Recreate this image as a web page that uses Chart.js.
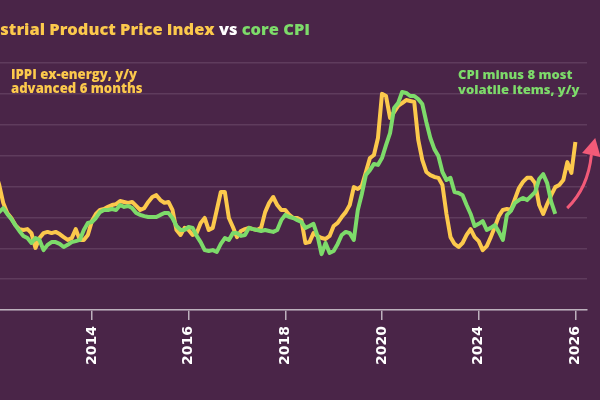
<!DOCTYPE html>
<html>
<head>
<meta charset="utf-8">
<script src="https://cdn.jsdelivr.net/npm/chart.js@4.4.1/dist/chart.umd.min.js"></script>
<style>
  html, body { margin: 0; padding: 0; width: 600px; height: 400px; overflow: hidden; background: #4a2548; }
  #wrap { position: absolute; left: -100px; top: 0; width: 700px; height: 400px; }
</style>
</head>
<body>
<div id="wrap"><canvas id="c"></canvas></div>
<script>
// Axis time (decimal year) of the first monthly observation
const startYear = 2012;

// IPPI ex-energy, y/y, advanced 6 months (monthly, grid units)
const ippi = [
  4.47, 4.05, 3.47, 3.14, 2.98, 2.75, 2.62, 2.59, 2.62, 2.49, 2.01, 2.33,
  2.49, 2.53, 2.49, 2.53, 2.46, 2.36, 2.27, 2.33, 2.62, 2.27, 2.27, 2.43,
  2.88, 3.11, 3.24, 3.27, 3.34, 3.40, 3.43, 3.53, 3.50, 3.47, 3.50, 3.37,
  3.24, 3.30, 3.50, 3.66, 3.72, 3.56, 3.47, 3.50, 3.24, 2.59, 2.43, 2.66,
  2.59, 2.43, 2.49, 2.82, 2.98, 2.59, 2.66, 3.24, 3.82, 3.82, 2.98, 2.69,
  2.36, 2.56, 2.62, 2.66, 2.62, 2.59, 2.66, 3.17, 3.47, 3.66, 3.40, 3.24,
  3.24, 3.08, 2.98, 2.98, 2.91, 2.17, 2.20, 2.49, 2.40, 2.33, 2.30, 2.40,
  2.72, 2.82, 3.01, 3.17, 3.40, 3.98, 3.92, 4.02, 4.47, 4.92, 5.02, 5.57,
  7.00, 6.93, 6.22, 6.41, 6.61, 6.70, 6.80, 6.77, 6.74, 5.51, 4.86, 4.47,
  4.37, 4.31, 4.28, 4.05, 3.11, 2.36, 2.14, 2.04, 2.17, 2.43, 2.62, 2.36,
  2.23, 1.94, 2.07, 2.36, 2.69, 3.04, 3.24, 3.27, 3.24, 3.60, 3.95, 4.15,
  4.28, 4.28, 4.11, 3.40, 3.11, 3.43, 3.72, 3.98, 4.05, 4.21, 4.79, 4.44,
  5.44
];

// CPI minus 8 most volatile items, y/y (monthly, grid units)
const cpix = [
  3.08, 3.17, 3.30, 3.11, 2.95, 2.75, 2.56, 2.40, 2.33, 2.17, 2.33, 2.27,
  1.94, 2.11, 2.20, 2.20, 2.14, 2.04, 2.11, 2.20, 2.23, 2.27, 2.59, 2.82,
  2.85, 2.98, 3.17, 3.24, 3.24, 3.27, 3.24, 3.40, 3.34, 3.37, 3.30, 3.14,
  3.08, 3.04, 3.01, 3.01, 3.01, 3.08, 3.14, 3.14, 2.98, 2.72, 2.59, 2.59,
  2.69, 2.66, 2.40, 2.20, 1.94, 1.91, 1.94, 1.88, 2.14, 2.33, 2.27, 2.49,
  2.49, 2.40, 2.43, 2.66, 2.62, 2.59, 2.56, 2.59, 2.56, 2.53, 2.59, 2.91,
  3.08, 3.01, 2.98, 2.91, 2.85, 2.66, 2.72, 2.79, 2.40, 1.81, 2.17, 1.85,
  1.91, 2.14, 2.43, 2.53, 2.49, 2.27, 3.24, 3.76, 4.37, 4.53, 4.73, 4.70,
  4.92, 5.34, 5.73, 6.54, 6.70, 7.06, 7.03, 6.93, 6.93, 6.83, 6.67, 6.09,
  5.57, 5.21, 4.99, 4.47, 4.21, 4.28, 3.82, 3.79, 3.72, 3.40, 3.11, 2.72,
  2.79, 2.88, 2.59, 2.66, 2.75, 2.53, 2.27, 3.08, 3.21, 3.47, 3.56, 3.63,
  3.56, 3.69, 3.82, 4.24, 4.40, 4.11, 3.50, 3.11
];

// X-axis tick positions (axis time) and the labels printed at them
const xTickValues = [2012, 2014, 2016, 2018, 2020, 2022, 2024];
const xTickLabels = ['2012', '2014', '2016', '2018', '2020', '2024', '2026'];

const titleParts = [
  { text: 'Industrial Product Price Index ', color: '#fcc94c' },
  { text: 'vs ', color: '#ffffff' },
  { text: 'core CPI', color: '#7ddb6a' }
];
const titleVisible = 'strial Product Price Index vs core CPI';
const ippiLabel = ['IPPI ex-energy, y/y', 'advanced 6 months'];
const cpixLabel = ['CPI minus 8 most', 'volatile items, y/y'];

const YELLOW = '#fcc94c';
const GREEN = '#7ddb6a';
const FONT = '"Open Sans", Lato, sans-serif';
const OFFSET = 100; // canvas is shifted left by this many px

const toXY = arr => arr.map((v, i) => ({ x: startYear + i / 12, y: v }));

function sizeFor(ctx, text, width, weight) {
  ctx.font = weight + ' 100px ' + FONT;
  return 100 * width / ctx.measureText(text).width;
}

const decor = {
  id: 'decor',
  afterDraw(chart) {
    const ctx = chart.ctx;
    const xs = chart.scales.x, ys = chart.scales.y;
    ctx.save();
    ctx.textBaseline = 'alphabetic';
    ctx.textAlign = 'left';
    // Title: visible part spans page x 0..310
    const ts = Math.min(18, sizeFor(ctx, titleVisible, 310, '800'));
    ctx.font = '800 ' + ts.toFixed(2) + 'px ' + FONT;
    const total = titleParts.reduce((s, p) => s + ctx.measureText(p.text).width, 0);
    let tx = OFFSET + 310 - total;
    titleParts.forEach(p => {
      ctx.fillStyle = p.color;
      ctx.fillText(p.text, tx, 35);
      tx += ctx.measureText(p.text).width;
    });
    // Series labels (one size per block)
    const ls = Math.min(14, (sizeFor(ctx, ippiLabel[0], 127, '800') + sizeFor(ctx, ippiLabel[1], 131, '800')) / 2);
    ctx.font = '800 ' + ls.toFixed(2) + 'px ' + FONT;
    ctx.fillStyle = YELLOW;
    ctx.fillText(ippiLabel[0], OFFSET + 11, 79);
    ctx.fillText(ippiLabel[1], OFFSET + 11, 93);
    const rs = Math.min(14, (sizeFor(ctx, cpixLabel[0], 114, '800') + sizeFor(ctx, cpixLabel[1], 122, '800')) / 2);
    ctx.font = '800 ' + rs.toFixed(2) + 'px ' + FONT;
    ctx.fillStyle = GREEN;
    ctx.fillText(cpixLabel[0], OFFSET + 458, 79);
    ctx.fillText(cpixLabel[1], OFFSET + 458, 94);
    // Red arrow (anchored in axis units)
    const p0 = [xs.getPixelForValue(2023.83), ys.getPixelForValue(3.30)];
    const c1 = [xs.getPixelForValue(2024.26), ys.getPixelForValue(3.95)];
    const p2 = [xs.getPixelForValue(2024.33), ys.getPixelForValue(5.02)];
    const tip = [xs.getPixelForValue(2024.41), ys.getPixelForValue(5.57)];
    ctx.strokeStyle = '#f25a78';
    ctx.fillStyle = '#f25a78';
    ctx.lineWidth = 3;
    ctx.beginPath();
    ctx.moveTo(p0[0], p0[1]);
    ctx.quadraticCurveTo(c1[0], c1[1], p2[0], p2[1]);
    ctx.stroke();
    const dx = tip[0] - p2[0], dy = tip[1] - p2[1];
    const len = Math.hypot(dx, dy);
    const nx = -dy / len, ny = dx / len;
    const hw = 9.5;
    ctx.beginPath();
    ctx.moveTo(tip[0], tip[1]);
    ctx.lineTo(p2[0] + nx * hw, p2[1] + ny * hw);
    ctx.lineTo(p2[0] - nx * hw, p2[1] - ny * hw);
    ctx.closePath();
    ctx.fill();
    ctx.restore();
  }
};

new Chart(document.getElementById('c'), {
  type: 'line',
  data: {
    datasets: [
      { label: 'CPIX', data: toXY(cpix), borderColor: GREEN, borderWidth: 4, pointRadius: 0, tension: 0, borderJoinStyle: 'round', order: 0 },
      { label: 'IPPI', data: toXY(ippi), borderColor: YELLOW, borderWidth: 4, pointRadius: 0, tension: 0, borderJoinStyle: 'round', order: 1 }
    ]
  },
  options: {
    responsive: true,
    maintainAspectRatio: false,
    animation: false,
    layout: { padding: { left: 71, right: 13, top: 63, bottom: 0 } },
    plugins: { legend: { display: false }, title: { display: false }, tooltip: { enabled: false } },
    scales: {
      x: {
        type: 'linear',
        min: 2011.5,
        max: 2024.24,
        afterBuildTicks: axis => { axis.ticks = xTickValues.map(v => ({ value: v })); },
        afterFit: axis => { axis.height = 90; },
        ticks: {
          callback: (v, i) => xTickLabels[i],
          color: '#ffffff',
          font: { family: '"DejaVu Sans", sans-serif', weight: 'bold', size: 14 },
          minRotation: 90,
          maxRotation: 90,
          autoSkip: false,
          padding: 6
        },
        grid: { drawOnChartArea: false, drawTicks: true, tickLength: 10, color: '#bdb1bd', lineWidth: 1.5 },
        border: { color: '#bdb1bd', width: 1.5 }
      },
      y: {
        min: 0,
        max: 8,
        ticks: { display: false, stepSize: 1 },
        afterFit: axis => { axis.width = 0; },
        grid: { color: '#5f3c5d', lineWidth: 1.5, drawTicks: false },
        border: { display: false }
      }
    }
  },
  plugins: [decor]
});
</script>
</body>
</html>
